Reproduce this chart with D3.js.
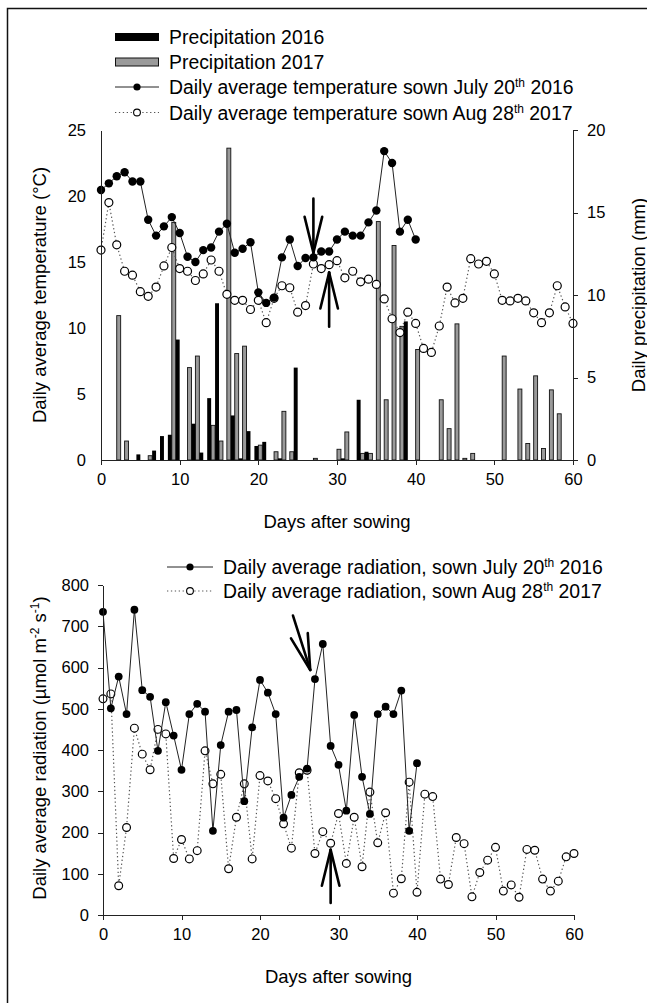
<!DOCTYPE html>
<html>

<head>
    <title>Temperature, precipitation and radiation</title>
    <script src="https://d3js.org/d3.v7.min.js"></script>
    <style>
        body {
            margin: 0;
            background: #fff;
        }

        text {
            font-family: "Liberation Sans", Arial, sans-serif;
            fill: #000;
        }

        .axis path,
        .axis line {
            stroke: #222;
            stroke-width: 1;
            shape-rendering: crispEdges;
        }

        .axis text {
            font-size: 16.5px;
        }

        .title {
            font-size: 18.5px;
        }

        .leg {
            font-size: 19.4px;
        }
    </style>
</head>

<body>
    <div id="chart"></div>
    <script>
        // values (index = days after sowing)
        var temp2016 = [20.45, 20.96, 21.5, 21.8, 21.1, 21.1, 18.2, 17.0, 17.7, 18.4, 17.2, 15.4, 15.0, 15.9, 16.1, 17.3, 17.9, 15.7, 16.0, 16.5,
            12.7, 11.9, 12.3, 15.35, 16.7, 14.7, 15.3, 15.35, 15.8, 15.8, 16.7, 17.3, 17.0, 17.0, 18.0, 18.9, 23.4, 22.5, 17.3, 18.2, 16.7];
        var temp2017 = [15.9, 19.5, 16.3, 14.3, 14.0, 12.75, 12.4, 13.1, 14.7, 16.1, 14.5, 14.3, 13.6, 14.1, 15.15, 14.3, 12.55, 12.1, 12.1, 11.4,
            12.1, 10.4, 12.25, 13.2, 13.05, 11.2, 11.7, 14.85, 14.5, 14.8, 15.1, 13.8, 14.3, 13.5, 13.7, 13.3, 12.2, 10.7, 9.65, 11.2,
            10.35, 8.45, 8.15, 10.15, 13.1, 11.9, 12.25, 15.25, 14.85, 15.05, 14.1, 12.1, 12.05, 12.25, 12.05, 11.15, 10.4, 11.15, 13.2, 11.6, 10.35];

        // precipitation (mm), only the days with rain
        var rainDays2016 = [5, 7, 8, 9, 10, 12, 13, 14, 15, 17, 18, 19, 20, 21, 23, 25, 31, 33, 34, 39];
        var rain2016 = [0.34, 0.57, 1.45, 1.53, 7.3, 2.2, 0.45, 3.75, 9.5, 2.7, 0.1, 1.75, 0.85, 1.1, 0.1, 5.6, 0.1, 3.65, 0.5, 8.4];
        var rainDays2017 = [2, 3, 6, 9, 11, 12, 14, 15, 16, 17, 18, 20, 22, 23, 24, 27, 30, 31, 33, 34, 35, 36, 37, 38, 40,
            43, 44, 45, 46, 47, 51, 53, 54, 55, 56, 57, 58];
        var rain2017 = [8.75, 1.15, 0.26, 14.4, 5.6, 6.3, 2.1, 1.15, 18.9, 6.45, 6.9, 0.9, 0.5, 2.95, 0.5, 0.1, 0.65, 1.7, 0.4, 0.4, 14.45, 3.65, 13.0, 8.1, 6.7,
            3.65, 1.9, 8.25, 0.1, 0.4, 6.3, 4.3, 1.0, 5.1, 0.7, 4.25, 2.8];

        var rad2016 = [735, 501, 578, 487, 740, 545, 529, 398, 516, 435, 352, 487, 512, 493, 204, 412, 493, 497, 276, 455,
            570, 539, 487, 236, 291, 335, 355, 572, 657, 410, 364, 253, 485, 335, 245, 487, 505, 487, 544, 204, 368];
        var rad2017 = [524, 536, 71, 212, 453, 390, 352, 450, 439, 137, 183, 136, 156, 398, 318, 341, 112, 237, 318, 136,
            338, 325, 282, 221, 162, 345, 351, 149, 202, 174, 246, 125, 237, 117, 298, 175, 248, 53, 88, 322,
            55, 293, 287, 87, 74, 188, 173, 44, 103, 133, 164, 58, 73, 43, 159, 157, 87, 58, 82, 141, 149];

        var dayTicks = [0, 10, 20, 30, 40, 50, 60];
        var tempTicks = [0, 5, 10, 15, 20, 25];
        var rainTicks = [0, 5, 10, 15, 20];
        var radTicks = [0, 100, 200, 300, 400, 500, 600, 700, 800];

        // arrows: [day, value] of tail and tip
        var tempArrows = [[[27, 19.8], [27, 15.7]], [[29, 10.1], [29, 14.2]]];
        var radArrows = [[[24.2, 726], [26.4, 594]], [[29, 29], [29, 158]]];

        var W = 647, H = 1003;
        var svg = d3.select("#chart").append("svg")
            .attr("width", W)
            .attr("height", H);

        // frame round the figure
        svg.append("rect")
            .attr("x", 7.5).attr("y", 8.5)
            .attr("width", 700).attr("height", 1100)
            .style("fill", "none").style("stroke", "#111").style("stroke-width", 1.5);

        function arrow(g, p0, p1) {
            var ang = Math.atan2(p1[1] - p0[1], p1[0] - p0[0]);
            var len = 37, spread = 0.24;
            g.append("line")
                .attr("x1", p0[0]).attr("y1", p0[1]).attr("x2", p1[0]).attr("y2", p1[1]);
            [-spread, spread].forEach(function (s) {
                g.append("line")
                    .attr("x1", p1[0]).attr("y1", p1[1])
                    .attr("x2", p1[0] - len * Math.cos(ang + s))
                    .attr("y2", p1[1] - len * Math.sin(ang + s));
            });
        }

        function sup(t, s) {
            t.append("tspan").attr("dy", -7).style("font-size", "12px").text(s);
        }

        // ---------- top chart ----------
        var x1 = d3.scaleLinear().domain([0, 60]).range([101, 573]);
        var yT = d3.scaleLinear().domain([0, 25]).range([460, 130]);
        var yP = d3.scaleLinear().domain([0, 20]).range([460, 130]);
        var bw = (x1(1) - x1(0)) * 0.5;

        var gTop = svg.append("g");

        gTop.selectAll("rect.p17")
            .data(rainDays2017).enter().append("rect")
            .attr("x", function (d) { return x1(d); })
            .attr("y", function (d, i) { return yP(rain2017[i]); })
            .attr("width", bw)
            .attr("height", function (d, i) { return yP(0) - yP(rain2017[i]); })
            .style("fill", "#9a9a9a").style("stroke", "#111").style("stroke-width", 0.9);

        gTop.selectAll("rect.p16")
            .data(rainDays2016).enter().append("rect")
            .attr("x", function (d) { return x1(d) - bw; })
            .attr("y", function (d, i) { return yP(rain2016[i]); })
            .attr("width", bw)
            .attr("height", function (d, i) { return yP(0) - yP(rain2016[i]); })
            .style("fill", "#000");

        var lineT = d3.line()
            .x(function (d, i) { return x1(i); })
            .y(function (d) { return yT(d); });

        gTop.append("path").attr("d", lineT(temp2017))
            .style("fill", "none").style("stroke", "#555").style("stroke-width", 1.2)
            .style("stroke-dasharray", "1.3,2.6");
        gTop.selectAll("circle.t17")
            .data(temp2017).enter().append("circle")
            .attr("cx", function (d, i) { return x1(i); })
            .attr("cy", function (d) { return yT(d); })
            .attr("r", 4)
            .style("fill", "#fff").style("stroke", "#000").style("stroke-width", 1.2);

        gTop.append("path").attr("d", lineT(temp2016))
            .style("fill", "none").style("stroke", "#222").style("stroke-width", 1);
        gTop.selectAll("circle.t16")
            .data(temp2016).enter().append("circle")
            .attr("cx", function (d, i) { return x1(i); })
            .attr("cy", function (d) { return yT(d); })
            .attr("r", 4.2)
            .style("fill", "#000");

        var arrT = gTop.append("g").style("stroke", "#000").style("stroke-width", 2.6).style("stroke-linecap", "round");
        tempArrows.forEach(function (a) {
            arrow(arrT, [x1(a[0][0]), yT(a[0][1])], [x1(a[1][0]), yT(a[1][1])]);
        });

        gTop.append("g").attr("class", "axis")
            .attr("transform", "translate(0,460)")
            .call(d3.axisBottom(x1).tickValues(dayTicks).tickSizeOuter(0).tickSize(5).tickPadding(8));
        gTop.append("g").attr("class", "axis")
            .attr("transform", "translate(101,0)")
            .call(d3.axisLeft(yT).tickValues(tempTicks).tickSize(0).tickSizeOuter(0).tickPadding(15));
        gTop.append("g").attr("class", "axis")
            .attr("transform", "translate(573,0)")
            .call(d3.axisRight(yP).tickValues(rainTicks).tickSize(5).tickSizeOuter(0).tickPadding(9));

        gTop.append("text").attr("class", "title").attr("x", x1(30)).attr("y", 528)
            .attr("text-anchor", "middle").text("Days after sowing");
        gTop.append("text").attr("class", "title").attr("transform", "translate(46,295) rotate(-90)")
            .attr("text-anchor", "middle").text("Daily average temperature (°C)");
        gTop.append("text").attr("class", "title").attr("transform", "translate(645,295) rotate(-90)")
            .attr("text-anchor", "middle").text("Daily precipitation (mm)");

        // legend
        var lg = gTop.append("g");
        var rows = [37, 62, 87, 112.5];
        lg.append("rect").attr("x", 115).attr("y", rows[0] - 4).attr("width", 44).attr("height", 8).style("fill", "#000");
        lg.append("rect").attr("x", 115.5).attr("y", rows[1] - 4).attr("width", 43).attr("height", 8)
            .style("fill", "#9a9a9a").style("stroke", "#111").style("stroke-width", 1);
        lg.append("line").attr("x1", 115).attr("x2", 159).attr("y1", rows[2]).attr("y2", rows[2])
            .style("stroke", "#222").style("stroke-width", 1);
        lg.append("circle").attr("cx", 137).attr("cy", rows[2]).attr("r", 3.6).style("fill", "#000");
        lg.append("line").attr("x1", 115).attr("x2", 159).attr("y1", rows[3]).attr("y2", rows[3])
            .style("stroke", "#555").style("stroke-width", 1.2).style("stroke-dasharray", "1.3,2.6");
        lg.append("circle").attr("cx", 137).attr("cy", rows[3]).attr("r", 3.4)
            .style("fill", "#fff").style("stroke", "#000").style("stroke-width", 1.1);

        var legTexts = ["Precipitation 2016", "Precipitation 2017"];
        legTexts.forEach(function (s, i) {
            lg.append("text").attr("class", "leg").attr("x", 169).attr("y", rows[i] + 7).text(s);
        });
        var t3 = lg.append("text").attr("class", "leg").attr("x", 169).attr("y", rows[2] + 7)
            .text("Daily average temperature sown July 20");
        sup(t3, "th");
        t3.append("tspan").attr("dy", 7).text(" 2016");
        var t4 = lg.append("text").attr("class", "leg").attr("x", 169).attr("y", rows[3] + 7)
            .text("Daily average temperature sown Aug 28");
        sup(t4, "th");
        t4.append("tspan").attr("dy", 7).text(" 2017");

        // ---------- bottom chart ----------
        var x2 = d3.scaleLinear().domain([0, 60]).range([103, 574]);
        var yR = d3.scaleLinear().domain([0, 800]).range([915, 585]);
        var gBot = svg.append("g");

        var lineR = d3.line()
            .x(function (d, i) { return x2(i); })
            .y(function (d) { return yR(d); });

        gBot.append("path").attr("d", lineR(rad2017))
            .style("fill", "none").style("stroke", "#555").style("stroke-width", 1.2)
            .style("stroke-dasharray", "1.3,2.6");
        gBot.selectAll("circle.r17")
            .data(rad2017).enter().append("circle")
            .attr("cx", function (d, i) { return x2(i); })
            .attr("cy", function (d) { return yR(d); })
            .attr("r", 3.9)
            .style("fill", "#fff").style("stroke", "#000").style("stroke-width", 1.2);

        gBot.append("path").attr("d", lineR(rad2016))
            .style("fill", "none").style("stroke", "#222").style("stroke-width", 1);
        gBot.selectAll("circle.r16")
            .data(rad2016).enter().append("circle")
            .attr("cx", function (d, i) { return x2(i); })
            .attr("cy", function (d) { return yR(d); })
            .attr("r", 3.9)
            .style("fill", "#000");

        var arrR = gBot.append("g").style("stroke", "#000").style("stroke-width", 2.6).style("stroke-linecap", "round");
        radArrows.forEach(function (a) {
            arrow(arrR, [x2(a[0][0]), yR(a[0][1])], [x2(a[1][0]), yR(a[1][1])]);
        });

        gBot.append("g").attr("class", "axis")
            .attr("transform", "translate(0,915)")
            .call(d3.axisBottom(x2).tickValues(dayTicks).tickSizeOuter(0).tickSize(5).tickPadding(8));
        gBot.append("g").attr("class", "axis")
            .attr("transform", "translate(103,0)")
            .call(d3.axisLeft(yR).tickValues(radTicks).tickSize(5).tickSizeOuter(0).tickPadding(9));

        gBot.append("text").attr("class", "title").attr("x", x2(30)).attr("y", 983)
            .attr("text-anchor", "middle").text("Days after sowing");
        var ty = gBot.append("text").attr("class", "title").attr("transform", "translate(46,748) rotate(-90)")
            .attr("text-anchor", "middle")
            .text("Daily average radiation (µmol m");
        sup(ty, "-2");
        ty.append("tspan").attr("dy", 7).text(" s");
        sup(ty, "-1");
        ty.append("tspan").attr("dy", 7).text(")");

        var rows2 = [567, 591];
        var lg2 = gBot.append("g");
        lg2.append("line").attr("x1", 167).attr("x2", 213).attr("y1", rows2[0]).attr("y2", rows2[0])
            .style("stroke", "#222").style("stroke-width", 1);
        lg2.append("circle").attr("cx", 190).attr("cy", rows2[0]).attr("r", 3.6).style("fill", "#000");
        lg2.append("line").attr("x1", 167).attr("x2", 213).attr("y1", rows2[1]).attr("y2", rows2[1])
            .style("stroke", "#555").style("stroke-width", 1.2).style("stroke-dasharray", "1.3,2.6");
        lg2.append("circle").attr("cx", 190).attr("cy", rows2[1]).attr("r", 3.4)
            .style("fill", "#fff").style("stroke", "#000").style("stroke-width", 1.1);
        var b1 = lg2.append("text").attr("class", "leg").attr("x", 223).attr("y", rows2[0] + 7)
            .text("Daily average radiation, sown July 20");
        sup(b1, "th");
        b1.append("tspan").attr("dy", 7).text(" 2016");
        var b2 = lg2.append("text").attr("class", "leg").attr("x", 223).attr("y", rows2[1] + 7)
            .text("Daily average radiation, sown Aug 28");
        sup(b2, "th");
        b2.append("tspan").attr("dy", 7).text(" 2017");
    </script>
</body>

</html>
